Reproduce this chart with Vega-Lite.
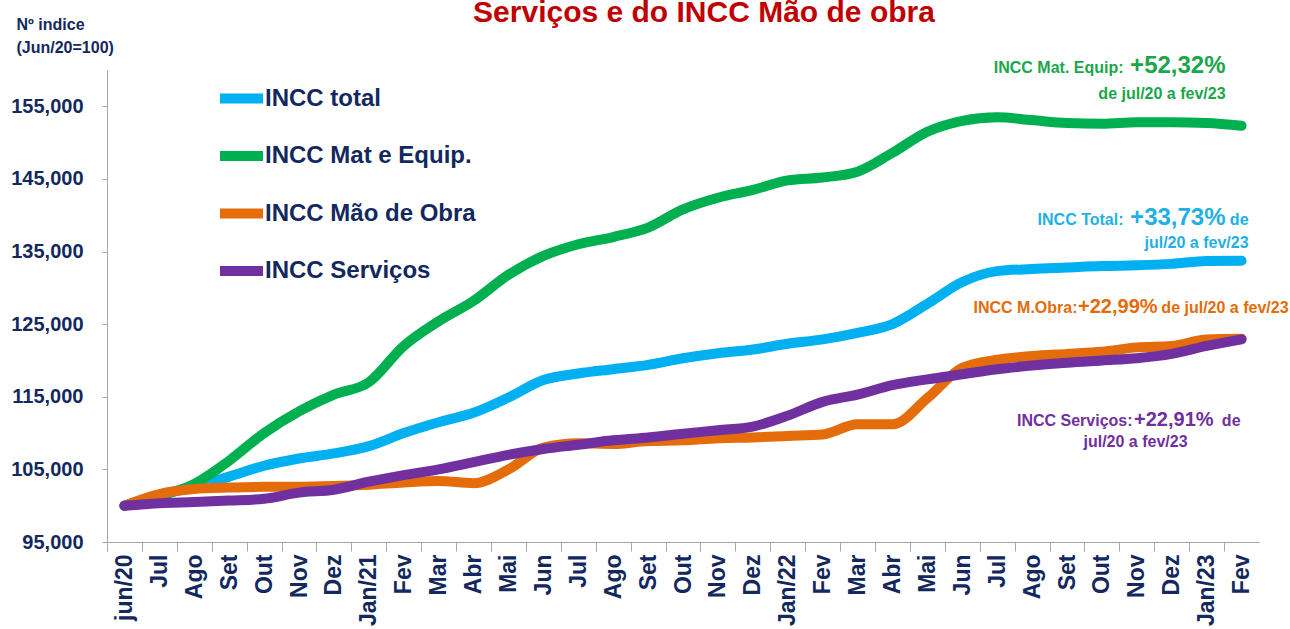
{
  "$schema": "https://vega.github.io/schema/vega-lite/v6.json",
  "width": 1152,
  "height": 472,
  "autosize": {"type": "none"},
  "padding": {"left": 107, "top": 70, "right": 31, "bottom": 87},
  "background": "white",
  "title": {
    "text": "Serviços e do INCC Mão de obra",
    "font": "Liberation Sans",
    "fontSize": 30,
    "fontWeight": "bold",
    "color": "#c00000",
    "anchor": "middle",
    "dx": 21,
    "dy": 12,
    "offset": 0
  },
  "config": {"view": {"stroke": null}, "font": "Liberation Sans"},
  "datasets": {
    "indices": [
      {"t": "2020-06", "total": 100.0, "mat": 100.0, "mo": 100.0, "serv": 100.0},
      {"t": "2020-07", "total": 101.5, "mat": 101.3, "mo": 101.6, "serv": 100.35},
      {"t": "2020-08", "total": 102.6, "mat": 103.0, "mo": 102.3, "serv": 100.5},
      {"t": "2020-09", "total": 104.0, "mat": 106.2, "mo": 102.5, "serv": 100.7},
      {"t": "2020-10", "total": 105.5, "mat": 110.0, "mo": 102.6, "serv": 100.95},
      {"t": "2020-11", "total": 106.5, "mat": 113.0, "mo": 102.6, "serv": 101.8},
      {"t": "2020-12", "total": 107.2, "mat": 115.3, "mo": 102.7, "serv": 102.2},
      {"t": "2021-01", "total": 108.2, "mat": 117.0, "mo": 102.9, "serv": 103.3},
      {"t": "2021-02", "total": 110.0, "mat": 122.0, "mo": 103.2, "serv": 104.2},
      {"t": "2021-03", "total": 111.5, "mat": 125.4, "mo": 103.4, "serv": 105.0},
      {"t": "2021-04", "total": 112.8, "mat": 128.2, "mo": 103.1, "serv": 106.0},
      {"t": "2021-05", "total": 114.9, "mat": 131.8, "mo": 105.0, "serv": 107.0},
      {"t": "2021-06", "total": 117.3, "mat": 134.4, "mo": 108.0, "serv": 107.8},
      {"t": "2021-07", "total": 118.2, "mat": 136.0, "mo": 108.6, "serv": 108.4},
      {"t": "2021-08", "total": 118.8, "mat": 137.0, "mo": 108.5, "serv": 109.0},
      {"t": "2021-09", "total": 119.4, "mat": 138.3, "mo": 108.9, "serv": 109.4},
      {"t": "2021-10", "total": 120.3, "mat": 140.8, "mo": 109.0, "serv": 109.9},
      {"t": "2021-11", "total": 121.0, "mat": 142.4, "mo": 109.3, "serv": 110.4},
      {"t": "2021-12", "total": 121.5, "mat": 143.5, "mo": 109.4, "serv": 110.9},
      {"t": "2022-01", "total": 122.3, "mat": 144.8, "mo": 109.6, "serv": 112.4},
      {"t": "2022-02", "total": 122.9, "mat": 145.2, "mo": 109.8, "serv": 114.3},
      {"t": "2022-03", "total": 123.8, "mat": 146.0, "mo": 111.2, "serv": 115.3},
      {"t": "2022-04", "total": 125.0, "mat": 148.6, "mo": 111.2, "serv": 116.6},
      {"t": "2022-05", "total": 127.8, "mat": 151.5, "mo": 114.8, "serv": 117.4},
      {"t": "2022-06", "total": 130.8, "mat": 153.0, "mo": 119.0, "serv": 118.1},
      {"t": "2022-07", "total": 132.3, "mat": 153.5, "mo": 120.1, "serv": 118.8},
      {"t": "2022-08", "total": 132.6, "mat": 153.1, "mo": 120.6, "serv": 119.3},
      {"t": "2022-09", "total": 132.8, "mat": 152.7, "mo": 120.9, "serv": 119.7},
      {"t": "2022-10", "total": 133.0, "mat": 152.6, "mo": 121.2, "serv": 120.0},
      {"t": "2022-11", "total": 133.1, "mat": 152.8, "mo": 121.8, "serv": 120.3},
      {"t": "2022-12", "total": 133.3, "mat": 152.8, "mo": 122.0, "serv": 120.9},
      {"t": "2023-01", "total": 133.7, "mat": 152.7, "mo": 122.9, "serv": 122.0},
      {"t": "2023-02", "total": 133.73, "mat": 152.32, "mo": 122.99, "serv": 122.91}
    ],
    "notes": [
      {"id": "g1", "t": "2023-02", "v": 159.55, "txt": "INCC Mat. Equip:"},
      {"id": "g2", "t": "2023-02", "v": 159.55, "txt": "+52,32%"},
      {"id": "g3", "t": "2023-02", "v": 155.97, "txt": "de jul/20 a fev/23"},
      {"id": "b1", "t": "2023-02", "v": 138.66, "txt": "INCC Total:"},
      {"id": "b2", "t": "2023-02", "v": 138.66, "txt": "+33,73%"},
      {"id": "b3", "t": "2023-02", "v": 138.66, "txt": "de"},
      {"id": "b4", "t": "2023-02", "v": 135.45, "txt": "jul/20  a fev/23"},
      {"id": "o1", "t": "2023-02", "v": 126.5, "txt": "INCC M.Obra:"},
      {"id": "o2", "t": "2023-02", "v": 126.5, "txt": "+22,99%"},
      {"id": "o3", "t": "2023-02", "v": 126.5, "txt": "de jul/20 a fev/23"},
      {"id": "p1", "t": "2023-02", "v": 110.97, "txt": "INCC Serviços:"},
      {"id": "p2", "t": "2023-02", "v": 110.97, "txt": "+22,91%"},
      {"id": "p3", "t": "2023-02", "v": 110.97, "txt": "de"},
      {"id": "p4", "t": "2023-02", "v": 108.12, "txt": "jul/20 a fev/23"}
    ]
  },
  "encoding": {
    "x": {
      "field": "t",
      "type": "ordinal",
      "scale": {"type": "band", "paddingInner": 0, "paddingOuter": 0},
      "axis": {
        "title": null,
        "labelExpr": "datum.value == '2020-06' ? 'jun/20' : (slice(datum.value,5,7) == '01' ? 'Jan/' + slice(datum.value,2,4) : ['Jan','Fev','Mar','Abr','Mai','Jun','Jul','Ago','Set','Out','Nov','Dez'][toNumber(slice(datum.value,5,7))-1])",
        "labelAngle": 270,
        "labelAlign": "right",
        "labelBaseline": "middle",
        "labelFont": "Liberation Sans",
        "labelFontSize": 23,
        "labelFontWeight": "bold",
        "labelColor": "#13285e",
        "labelPadding": 3,
        "labelOverlap": false,
        "labelBound": false,
        "tickOffset": -17.45,
        "labelOffset": 17.45,
        "tickSize": 9,
        "tickColor": "#a6a6a6",
        "domainColor": "#a6a6a6",
        "grid": false
      }
    }
  },
  "layer": [
    {
      "data": {"name": "indices"},
      "transform": [{"fold": ["total", "mat", "mo", "serv"], "as": ["serie", "valor"]}],
      "mark": {"type": "line", "strokeWidth": 10, "interpolate": "monotone", "strokeCap": "round", "strokeJoin": "round"},
      "encoding": {
        "y": {
          "field": "valor",
          "type": "quantitative",
          "scale": {"domain": [95, 160], "nice": false, "zero": false},
          "axis": {
            "values": [95, 105, 115, 125, 135, 145, 155],
            "labelExpr": "replace(format(datum.value, '.3f'), '.', ',')",
            "labelFont": "Liberation Sans",
            "labelFontSize": 20,
            "labelFontWeight": "bold",
            "labelColor": "#13285e",
            "labelPadding": 19,
            "tickSize": 5,
            "tickColor": "#a6a6a6",
            "domainColor": "#a6a6a6",
            "grid": false,
            "title": ["Nº indice", "(Jun/20=100)"],
            "titleAngle": 0,
            "titleAlign": "left",
            "titleBaseline": "alphabetic",
            "titleX": -91,
            "titleY": -41,
            "titleFont": "Liberation Sans",
            "titleFontSize": 16,
            "titleFontWeight": "bold",
            "titleColor": "#13285e",
            "titleLineHeight": 23
          }
        },
        "color": {
          "field": "serie",
          "type": "nominal",
          "scale": {"domain": ["total", "mat", "mo", "serv"], "range": ["#00b0f0", "#00b050", "#e46c0a", "#7030a0"]},
          "legend": {
            "orient": "none",
            "legendX": 108,
            "legendY": 2,
            "title": null,
            "symbolType": "stroke",
            "symbolSize": 1849,
            "symbolStrokeWidth": 10,
            "labelFont": "Liberation Sans",
            "labelFontSize": 24,
            "labelFontWeight": "bold",
            "labelColor": "#13285e",
            "labelOffset": -3,
            "labelLimit": 400,
            "rowPadding": 10.5,
            "labelExpr": "datum.label == 'total' ? 'INCC total' : datum.label == 'mat' ? 'INCC Mat e Equip.' : datum.label == 'mo' ? 'INCC Mão de Obra' : 'INCC Serviços'"
          }
        }
      }
    },
    {"data": {"name": "notes"}, "transform": [{"filter": "datum.id == 'g1'"}], "mark": {"type": "text", "align": "right", "baseline": "alphabetic", "dx": -118, "fontSize": 16, "fontWeight": "bold", "color": "#1aa64a"}, "encoding": {"y": {"field": "v", "type": "quantitative"}, "text": {"field": "txt"}}},
    {"data": {"name": "notes"}, "transform": [{"filter": "datum.id == 'g2'"}], "mark": {"type": "text", "align": "right", "baseline": "alphabetic", "dx": -16, "fontSize": 24, "fontWeight": "bold", "color": "#1aa64a"}, "encoding": {"y": {"field": "v", "type": "quantitative"}, "text": {"field": "txt"}}},
    {"data": {"name": "notes"}, "transform": [{"filter": "datum.id == 'g3'"}], "mark": {"type": "text", "align": "right", "baseline": "alphabetic", "dx": -16, "fontSize": 16, "fontWeight": "bold", "color": "#1aa64a"}, "encoding": {"y": {"field": "v", "type": "quantitative"}, "text": {"field": "txt"}}},
    {"data": {"name": "notes"}, "transform": [{"filter": "datum.id == 'b1'"}], "mark": {"type": "text", "align": "right", "baseline": "alphabetic", "dx": -118, "fontSize": 16, "fontWeight": "bold", "color": "#1fb0e6"}, "encoding": {"y": {"field": "v", "type": "quantitative"}, "text": {"field": "txt"}}},
    {"data": {"name": "notes"}, "transform": [{"filter": "datum.id == 'b2'"}], "mark": {"type": "text", "align": "right", "baseline": "alphabetic", "dx": -16, "fontSize": 24, "fontWeight": "bold", "color": "#1fb0e6"}, "encoding": {"y": {"field": "v", "type": "quantitative"}, "text": {"field": "txt"}}},
    {"data": {"name": "notes"}, "transform": [{"filter": "datum.id == 'b3'"}], "mark": {"type": "text", "align": "right", "baseline": "alphabetic", "dx": 7, "fontSize": 16, "fontWeight": "bold", "color": "#1fb0e6"}, "encoding": {"y": {"field": "v", "type": "quantitative"}, "text": {"field": "txt"}}},
    {"data": {"name": "notes"}, "transform": [{"filter": "datum.id == 'b4'"}], "mark": {"type": "text", "align": "right", "baseline": "alphabetic", "dx": 7, "fontSize": 16, "fontWeight": "bold", "color": "#1fb0e6"}, "encoding": {"y": {"field": "v", "type": "quantitative"}, "text": {"field": "txt"}}},
    {"data": {"name": "notes"}, "transform": [{"filter": "datum.id == 'o1'"}], "mark": {"type": "text", "align": "right", "baseline": "alphabetic", "dx": -164, "fontSize": 16, "fontWeight": "bold", "color": "#e36c0a"}, "encoding": {"y": {"field": "v", "type": "quantitative"}, "text": {"field": "txt"}}},
    {"data": {"name": "notes"}, "transform": [{"filter": "datum.id == 'o2'"}], "mark": {"type": "text", "align": "right", "baseline": "alphabetic", "dx": -84, "fontSize": 20, "fontWeight": "bold", "color": "#e36c0a"}, "encoding": {"y": {"field": "v", "type": "quantitative"}, "text": {"field": "txt"}}},
    {"data": {"name": "notes"}, "transform": [{"filter": "datum.id == 'o3'"}], "mark": {"type": "text", "align": "right", "baseline": "alphabetic", "dx": 47, "fontSize": 16, "fontWeight": "bold", "color": "#e36c0a"}, "encoding": {"y": {"field": "v", "type": "quantitative"}, "text": {"field": "txt"}}},
    {"data": {"name": "notes"}, "transform": [{"filter": "datum.id == 'p1'"}], "mark": {"type": "text", "align": "right", "baseline": "alphabetic", "dx": -109, "fontSize": 16, "fontWeight": "bold", "color": "#7030a0"}, "encoding": {"y": {"field": "v", "type": "quantitative"}, "text": {"field": "txt"}}},
    {"data": {"name": "notes"}, "transform": [{"filter": "datum.id == 'p2'"}], "mark": {"type": "text", "align": "right", "baseline": "alphabetic", "dx": -28, "fontSize": 20, "fontWeight": "bold", "color": "#7030a0"}, "encoding": {"y": {"field": "v", "type": "quantitative"}, "text": {"field": "txt"}}},
    {"data": {"name": "notes"}, "transform": [{"filter": "datum.id == 'p3'"}], "mark": {"type": "text", "align": "right", "baseline": "alphabetic", "dx": -1, "fontSize": 16, "fontWeight": "bold", "color": "#7030a0"}, "encoding": {"y": {"field": "v", "type": "quantitative"}, "text": {"field": "txt"}}},
    {"data": {"name": "notes"}, "transform": [{"filter": "datum.id == 'p4'"}], "mark": {"type": "text", "align": "right", "baseline": "alphabetic", "dx": -54, "fontSize": 16, "fontWeight": "bold", "color": "#7030a0"}, "encoding": {"y": {"field": "v", "type": "quantitative"}, "text": {"field": "txt"}}}
  ]
}
